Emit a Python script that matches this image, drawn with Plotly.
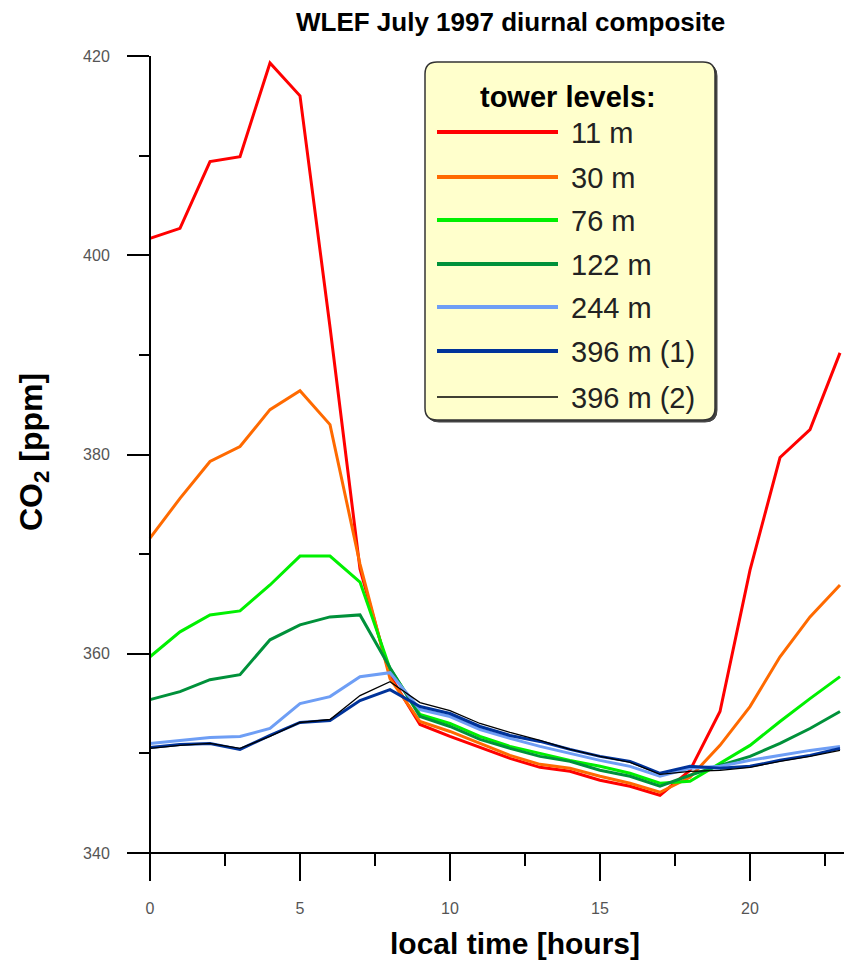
import plotly.graph_objects as go

# ---------------- data ----------------
hours = list(range(24))

co2_11m = [401.7, 402.7, 409.4, 409.9, 419.3, 416.0, 392.8, 368.5, 357.8, 352.9, 351.7, 350.6,
           349.5, 348.6, 348.2, 347.3, 346.7, 345.8, 348.3, 354.2, 368.4, 379.7, 382.5, 390.2]
co2_30m = [371.6, 375.6, 379.3, 380.8, 384.5, 386.4, 383.0, 369.0, 357.5, 353.2, 352.2, 351.0,
           349.8, 348.9, 348.5, 347.7, 347.0, 346.1, 347.6, 350.8, 354.7, 359.7, 363.7, 366.9]
co2_76m = [359.7, 362.2, 363.9, 364.3, 366.9, 369.8, 369.8, 367.2, 358.5, 353.9, 353.0, 351.7,
           350.7, 350.0, 349.3, 348.7, 348.0, 347.0, 347.2, 349.0, 350.8, 353.2, 355.5, 357.7]
co2_122m = [355.4, 356.2, 357.4, 357.9, 361.4, 362.9, 363.7, 363.9, 358.6, 353.7, 352.7, 351.4,
            350.5, 349.7, 349.2, 348.3, 347.7, 346.7, 347.8, 348.8, 349.7, 351.0, 352.5, 354.2]
co2_244m = [351.0, 351.3, 351.6, 351.7, 352.5, 355.0, 355.7, 357.7, 358.1, 354.4, 353.7, 352.4,
            351.5, 350.7, 350.0, 349.3, 348.7, 347.7, 348.5, 348.7, 349.3, 349.8, 350.3, 350.7]
co2_396m_1 = [350.6, 350.9, 351.0, 350.4, 351.8, 353.1, 353.3, 355.3, 356.4, 354.7, 354.0, 352.7,
              351.8, 351.2, 350.4, 349.7, 349.2, 348.0, 348.7, 348.5, 348.7, 349.3, 349.8, 350.5]
co2_396m_2 = [350.5, 350.8, 351.0, 350.5, 351.7, 353.1, 353.4, 355.8, 357.2, 355.1, 354.3, 353.0,
              352.1, 351.3, 350.4, 349.7, 349.1, 347.9, 348.2, 348.3, 348.6, 349.2, 349.7, 350.3]

series_names = ["11 m", "30 m", "76 m", "122 m", "244 m", "396 m (1)", "396 m (2)"]
series_values = [co2_11m, co2_30m, co2_76m, co2_122m, co2_244m, co2_396m_1, co2_396m_2]
series_colors = ["#FF0000", "#FF6A00", "#00F000", "#00913A", "#6E9EF5", "#00339A", "#000000"]
series_widths = [3, 3, 3, 3, 3, 3, 1.3]

x_tickvals = [0, 5, 10, 15, 20]
y_tickvals = [340, 360, 380, 400, 420]

# ---------------- layout geometry (pixels) ----------------
W, H = 844, 961
L, R, T, B = 128, 844, 56, 880   # plot area in pixels
PW, PH = R - L, B - T


def fx(px):
    return (px - L) / PW


def fy(py):
    return (B - py) / PH


FONT = "Liberation Sans, Arial, sans-serif"

fig = go.Figure()
for name, vals, col, w in zip(series_names, series_values, series_colors, series_widths):
    fig.add_trace(go.Scatter(x=hours, y=vals, mode="lines", name=name,
                             line=dict(color=col, width=w), showlegend=False))

# x range: x=0 at pixel 150, 30 px per hour
x0 = -(150 - L) / 30.0
x1 = (R - 150) / 30.0
# y range: 340 at pixel 853, 420 at pixel 56
ppu = (853 - 56) / 80.0
y0 = 340 - (B - 853) / ppu
y1 = 420

fig.update_layout(
    width=W, height=H,
    margin=dict(l=L, r=W - R, t=T, b=H - B, pad=0),
    paper_bgcolor="white", plot_bgcolor="white",
    font=dict(family=FONT, color="black"),
    xaxis=dict(range=[x0, x1], showgrid=False, zeroline=False,
               showline=True, linecolor="black", linewidth=2,
               anchor="free", position=fy(853),
               tickmode="array", tickvals=x_tickvals,
               ticks="outside", ticklen=27, tickwidth=2, tickcolor="black",
               ticklabelstandoff=14,
               tickfont=dict(size=16, color="#555555", family=FONT),
               minor=dict(dtick=2.5, tick0=0, ticks="outside", ticklen=12,
                          tickwidth=2, tickcolor="black", showgrid=False)),
    yaxis=dict(range=[y0, y1], showgrid=False, zeroline=False,
               showline=True, linecolor="black", linewidth=2,
               anchor="free", position=fx(150),
               tickmode="array", tickvals=y_tickvals,
               ticks="outside", ticklen=22, tickwidth=2, tickcolor="black",
               ticklabelstandoff=14,
               tickfont=dict(size=16, color="#555555", family=FONT),
               minor=dict(dtick=10, tick0=340, ticks="outside", ticklen=10,
                          tickwidth=2, tickcolor="black", showgrid=False)),
)

annotations = []
# title
annotations.append(dict(text="<b>WLEF July 1997 diurnal composite</b>", x=fx(510), y=fy(22),
                        xref="paper", yref="paper", showarrow=False,
                        xanchor="center", yanchor="middle",
                        font=dict(size=26, family=FONT, color="black")))
# axis titles
annotations.append(dict(text="<b>local time [hours]</b>", x=fx(515), y=fy(943),
                        xref="paper", yref="paper", showarrow=False,
                        xanchor="center", yanchor="middle",
                        font=dict(size=30, family=FONT, color="black")))
annotations.append(dict(text="<b>CO<sub>2</sub> [ppm]</b>", x=fx(33), y=fy(452),
                        xref="paper", yref="paper", showarrow=False, textangle=-90,
                        xanchor="center", yanchor="middle",
                        font=dict(size=32, family=FONT, color="black")))

# legend box (custom, rounded)
bx0, by0, bx1, by1, rad = 425, 62, 715, 420, 12


def rounded_path(a0, b0, a1, b1, r):
    pts = [
        f"M {fx(a0 + r)} {fy(b0)}",
        f"L {fx(a1 - r)} {fy(b0)}",
        f"Q {fx(a1)} {fy(b0)} {fx(a1)} {fy(b0 + r)}",
        f"L {fx(a1)} {fy(b1 - r)}",
        f"Q {fx(a1)} {fy(b1)} {fx(a1 - r)} {fy(b1)}",
        f"L {fx(a0 + r)} {fy(b1)}",
        f"Q {fx(a0)} {fy(b1)} {fx(a0)} {fy(b1 - r)}",
        f"L {fx(a0)} {fy(b0 + r)}",
        f"Q {fx(a0)} {fy(b0)} {fx(a0 + r)} {fy(b0)}",
        "Z",
    ]
    return " ".join(pts)


shapes = [
    dict(type="path", xref="paper", yref="paper", path=rounded_path(bx0 + 2, by0 + 2, bx1 + 2, by1 + 2, rad),
         fillcolor="#444444", line=dict(color="#444444", width=1), layer="above"),
    dict(type="path", xref="paper", yref="paper", path=rounded_path(bx0, by0, bx1, by1, rad),
         fillcolor="#FFFFCC", line=dict(color="#333333", width=1.5), layer="above"),
]

annotations.append(dict(text="<b>tower levels:</b>", x=fx(568), y=fy(97),
                        xref="paper", yref="paper", showarrow=False,
                        xanchor="center", yanchor="middle",
                        font=dict(size=29, family=FONT, color="black")))

entry_y = [132, 177, 220, 264, 307, 351, 397]
for name, col, w, ey in zip(series_names, series_colors, series_widths, entry_y):
    shapes.append(dict(type="line", xref="paper", yref="paper",
                       x0=fx(437), x1=fx(558), y0=fy(ey), y1=fy(ey),
                       line=dict(color=col, width=4 if w > 2 else 1.3), layer="above"))
    annotations.append(dict(text=name, x=fx(569), y=fy(ey + 1),
                            xref="paper", yref="paper", showarrow=False,
                            xanchor="left", yanchor="middle",
                            font=dict(size=29, family=FONT, color="#222222")))

fig.update_layout(shapes=shapes, annotations=annotations)

fig.write_html("out.html")
